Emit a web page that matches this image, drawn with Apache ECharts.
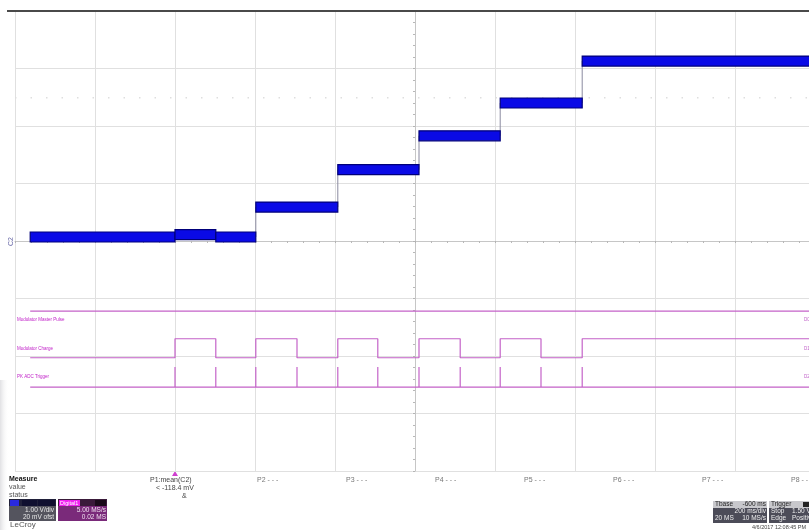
<!DOCTYPE html>
<html>
<head>
<meta charset="utf-8">
<script src="https://cdn.jsdelivr.net/npm/echarts@6/dist/echarts.min.js"></script>
<style>
  html, body { margin: 0; padding: 0; background: #fff; }
  #scope { width: 809px; height: 530px; }
</style>
</head>
<body>
<div id="scope"></div>
<script>
// Time base: 200 ms/div, 10 divisions, 0 ms at the centre graticule line
const timeMin = -1000;
const timeMax = 1000;
const timeStep = 200;
const traceStart = -962;

// C2 analogue trace: one flat level per segment (V, 1 V/div)
const c2SegStart = [-962, -600, -498, -398, -193, 10, 213, 418];
const c2SegEnd   = [-600, -498, -398, -193, 10, 213, 418, 1000];
const c2Level    = [0.07, 0.11, 0.07, 0.59, 1.24, 1.83, 2.40, 3.13];

// Digital lines (rising / falling edge times in ms)
const chargeRise = [-600, -398, -193, 10, 213, 418];
const chargeFall = [-498, -295, -93, 113, 315];

// Digital trace levels on the graticule (divisions)
const masterLevel = -1.22;
const chargeLow = -2.03, chargeHigh = -1.70;
const adcLow = -2.54, adcHigh = -2.19;
const trigLevel = 2.49;

const digitalNames = ['Modulator Master Pulse', 'Modulator Charge', 'PK ADC Trigger'];
const measureNames = ['P1:mean(C2)', 'P2 - - -', 'P3 - - -', 'P4 - - -', 'P5 - - -', 'P6 - - -', 'P7 - - -', 'P8 - - -'];

// ---- build series data from the arrays above ----
const c2Bands = c2Level.map((v, i) => [c2SegStart[i], c2SegEnd[i], v]);

// thin vertical transitions between levels, broken between steps
const c2Edges = [];
for (let i = 1; i < c2Level.length; i++) {
  c2Edges.push([c2SegStart[i], c2Level[i - 1]]);
  c2Edges.push([c2SegStart[i], c2Level[i]]);
  c2Edges.push([c2SegStart[i], '-']);
}

const masterData = [[traceStart, masterLevel], [timeMax, masterLevel]];

const chargeData = [[traceStart, chargeLow]];
chargeRise.forEach((r, i) => {
  chargeData.push([r, chargeLow], [r, chargeHigh]);
  if (i < chargeFall.length) {
    chargeData.push([chargeFall[i], chargeHigh], [chargeFall[i], chargeLow]);
  }
});
chargeData.push([timeMax, chargeRise.length > chargeFall.length ? chargeHigh : chargeLow]);

const adcEdges = chargeRise.concat(chargeFall).sort((a, b) => a - b);
const adcData = [[traceStart, adcLow]];
adcEdges.forEach(e => adcData.push([e, adcLow], [e, adcHigh], [e, adcLow]));
adcData.push([timeMax, adcLow]);

const trigData = [[timeMin, trigLevel], [timeMax, trigLevel]];

const pink = '#c462c8';
const font = 'Liberation Sans, Arial, sans-serif';

const chart = echarts.init(document.getElementById('scope'), null, { renderer: 'canvas' });

// ---- readout panel around the graticule ----
function txt(x, y, s, style) {
  return { type: 'text', x: x, y: y, silent: true, z: 10,
    style: Object.assign({ text: s, font: '7px ' + font, fill: '#333', verticalAlign: 'top', align: 'left' }, style || {}) };
}
function box(x, y, w, h, fill) {
  return { type: 'rect', shape: { x: x, y: y, width: w, height: h }, style: { fill: fill }, silent: true, z: 5 };
}
const small = '6.5px ' + font;

const graphics = [
  // soft page edge on the left
  { type: 'rect', shape: { x: 0, y: 380, width: 9, height: 150 }, silent: true,
    style: { fill: new echarts.graphic.LinearGradient(0, 0, 1, 0, [
      { offset: 0, color: 'rgba(200,200,205,0.55)' }, { offset: 1, color: 'rgba(255,255,255,0)' }]) } },
  // heavy frame line over the graticule
  { type: 'line', shape: { x1: 7, y1: 11, x2: 809, y2: 11 }, style: { stroke: '#4a4a4a', lineWidth: 2 }, silent: true, z: 10 },
  // channel label
  { type: 'text', x: 8, y: 246, rotation: Math.PI / 2, silent: true, z: 10,
    style: { text: 'C2', font: '7px ' + font, fill: '#6a6aa8', align: 'left', verticalAlign: 'top' } },
  // trigger position marker
  { type: 'polygon', shape: { points: [[172, 476], [178, 476], [175, 471]] }, style: { fill: '#d040d0' }, silent: true },

  txt(9, 476, 'Measure', { font: 'bold 7px ' + font, fill: '#111' }),
  txt(9, 484, 'value', { fill: '#555' }),
  txt(9, 492, 'status', { fill: '#555' }),
  txt(150, 477, measureNames[0], { fill: '#444' }),
  txt(156, 485, '< -118.4 mV', { fill: '#444' }),
  txt(182, 493, '&', { fill: '#444' }),

  // C2 channel box
  box(9, 499, 47, 22, '#54545e'),
  box(9, 499, 47, 7, '#20203a'),
  box(10, 500, 9, 6, '#2a2ae0'),
  box(22, 500, 15, 6, '#101030'),
  box(38, 500, 17, 6, '#101030'),
  txt(54, 507, '1.00 V/div', { fill: '#e8e8e8', align: 'right', font: small }),
  txt(54, 514, '20 mV ofst', { fill: '#e8e8e8', align: 'right', font: small }),
  // digital group box
  box(58, 499, 49, 22, '#7a2a7a'),
  box(58, 499, 49, 7, '#3a1a3a'),
  box(59, 500, 21, 6, '#f020f0'),
  box(95, 500, 11, 6, '#1a0a1a'),
  txt(60, 500, 'Digital1', { fill: '#fff', font: '5.5px ' + font }),
  txt(106, 507, '5.00 MS/s', { fill: '#f0e0f0', align: 'right', font: small }),
  txt(106, 514, '0.02 MS', { fill: '#f0e0f0', align: 'right', font: small }),
  txt(10, 521, 'LeCroy', { fill: '#555', font: '8px ' + font }),

  // timebase / trigger boxes
  box(713, 501, 54, 7, '#c8c8cc'),
  box(713, 508, 54, 15, '#4c4c58'),
  txt(715, 501, 'Tbase', { fill: '#222', font: small }),
  txt(766, 501, '-600 ms', { fill: '#222', align: 'right', font: small }),
  txt(766, 508, '200 ms/div', { fill: '#eee', align: 'right', font: small }),
  txt(715, 515, '20 MS', { fill: '#eee', font: small }),
  txt(766, 515, '10 MS/s', { fill: '#eee', align: 'right', font: small }),
  box(769, 501, 40, 7, '#c8c8cc'),
  box(769, 508, 40, 15, '#4c4c58'),
  box(803, 502, 6, 5, '#222'),
  txt(771, 501, 'Trigger', { fill: '#222', font: small }),
  txt(771, 508, 'Stop', { fill: '#eee', font: small }),
  txt(792, 508, '1.50 V', { fill: '#eee', font: small }),
  txt(771, 515, 'Edge', { fill: '#eee', font: small }),
  txt(792, 515, 'Positive', { fill: '#eee', font: small }),
  txt(752, 524, '4/6/2017 12:08:45 PM', { fill: '#444', font: '5.5px ' + font })
];

// measurement slots P2..P8
const slotX = [257, 346, 435, 524, 613, 702, 791];
for (let i = 1; i < measureNames.length; i++) {
  graphics.push(txt(slotX[i - 1], 477, measureNames[i], { fill: '#777' }));
}

// digital trace names at the left and channel tags at the right
const labelY = [317, 346, 374];
const tagNames = ['D0', 'D1', 'D2'];
digitalNames.forEach((n, i) => {
  graphics.push(txt(17, labelY[i], n, { fill: '#c020c8', font: '4.5px ' + font }));
  graphics.push(txt(804, labelY[i], tagNames[i], { fill: '#c060c8', font: '4.5px ' + font }));
});

const plainAxis = {
  type: 'value', axisLabel: { show: false },
  axisLine: { show: false }, axisTick: { show: false },
  splitLine: { show: true, lineStyle: { color: '#e0e0e0', width: 1 } }
};
// centre crosshair with fine division ticks
const crossAxis = {
  type: 'value', axisLabel: { show: false },
  axisLine: { show: true, lineStyle: { color: '#c6c6c6', width: 1 } },
  axisTick: { show: true, length: 2, lineStyle: { color: '#b4b4b4' } },
  minorTick: { show: true, splitNumber: 5, length: 2, lineStyle: { color: '#b8b8b8' } },
  splitLine: { show: false }
};

const option = {
  animation: false,
  backgroundColor: '#ffffff',
  grid: { left: 15, top: 11, width: 800, height: 460, show: false, outerBoundsMode: 'none', containLabel: false },
  xAxis: [
    Object.assign({}, plainAxis, { min: timeMin, max: timeMax, interval: timeStep }),
    Object.assign({}, crossAxis, { min: timeMin, max: timeMax, interval: timeStep, position: 'bottom', offset: -230 })
  ],
  yAxis: [
    Object.assign({}, plainAxis, { min: -4, max: 4, interval: 1 }),
    Object.assign({}, crossAxis, { min: -4, max: 4, interval: 1, position: 'left', offset: -400 })
  ],
  graphic: graphics,
  series: [
    {
      name: 'trigger level', type: 'line', data: trigData, symbol: 'none', silent: true, z: 1,
      lineStyle: { color: '#dedede', width: 1.5, type: [1.5, 14] }
    },
    {
      name: 'C2 edges', type: 'line', data: c2Edges, symbol: 'none', silent: true, connectNulls: false, z: 2,
      lineStyle: { color: '#8a8aa0', width: 1 }
    },
    {
      name: 'C2', type: 'custom', data: c2Bands, silent: true, z: 3,
      renderItem: function (params, api) {
        const p1 = api.coord([api.value(0), api.value(2)]);
        const p2 = api.coord([api.value(1), api.value(2)]);
        return {
          type: 'rect',
          shape: { x: p1[0], y: p1[1] - 5, width: p2[0] - p1[0], height: 10 },
          style: { fill: '#0a0ae6', stroke: '#00007a', lineWidth: 1.2 }
        };
      },
      encode: { x: [0, 1], y: 2 }
    },
    {
      name: digitalNames[0], type: 'line', data: masterData, symbol: 'none', silent: true,
      lineStyle: { color: pink, width: 1.2 }
    },
    {
      name: digitalNames[1], type: 'line', data: chargeData, symbol: 'none', silent: true,
      lineStyle: { color: pink, width: 1.2 }
    },
    {
      name: digitalNames[2], type: 'line', data: adcData, symbol: 'none', silent: true,
      lineStyle: { color: pink, width: 1.2 }
    }
  ]
};

chart.setOption(option);
</script>
</body>
</html>
